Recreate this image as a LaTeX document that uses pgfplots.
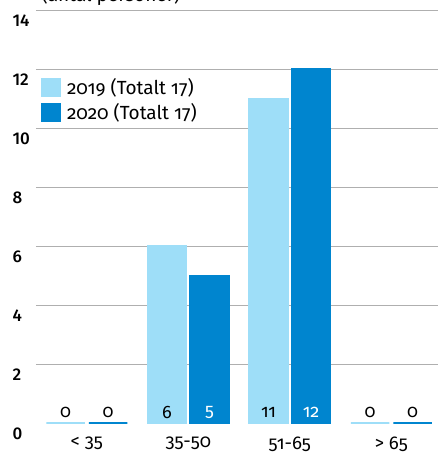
\documentclass[border=0pt]{standalone}
\usepackage{fontspec}
\setmainfont{Fira Sans}[Numbers=OldStyle]
\newfontfamily\medfont{Fira Sans Medium}[Numbers=Lining]
\usepackage{pgfplots}
\pgfplotsset{compat=1.18}
\definecolor{lightb}{RGB}{158,222,248}
\definecolor{darkb}{RGB}{0,133,207}
\definecolor{txt}{RGB}{30,30,30}
\definecolor{gridc}{RGB}{175,175,175}
\begin{document}
\begin{tikzpicture}[font=\color{txt}]
\begin{axis}[name=ax, scale only axis, width=402pt, height=413pt,
  xmin=-0.5, xmax=3.46, ymin=0, ymax=14,
  ybar=4pt, bar width=38.5pt,
  axis line style={draw=none},
  major tick length=0pt,
  xtick={0,1,2,3}, xticklabels={{< 35},{35-50},{51-65},{> 65}},
  ytick={2,4,...,14}, extra y ticks={0}, extra y tick style={grid=none},
  ymajorgrids, grid style={gridc, line width=0.8pt},
  /pgf/number format/assume math mode=true,
  yticklabel style={font=\medfont\fontsize{17}{19}\selectfont, anchor=west, xshift=-27pt, yshift=-11pt},
  xticklabel style={font=\fontsize{18.5}{21}\selectfont, yshift=-10pt},
  visualization depends on={rawy \as \rawy},
  every node near coord/.append style={anchor=center, yshift=11pt-\rawy*29.5pt, font=\fontsize{18}{20}\selectfont},
  legend style={at={(rel axis cs:0.012,0.84)}, anchor=north west, draw=none, fill=none,
    font=\fontsize{19}{21}\selectfont, row sep=4pt, inner sep=0pt,
    /tikz/every odd column/.append style={column sep=4pt}},
  legend cell align=left,
  legend image code/.code={\fill[#1, draw=none] (0pt,-9.5pt) rectangle (20pt,9.5pt);},
]
\addplot[fill=lightb, draw=lightb, line width=1.8pt, nodes near coords] coordinates {(0,0) (1,6) (2,11) (3,0)};
\addlegendentry{2019 (Totalt 17)}
\addplot[fill=darkb, draw=darkb, line width=1.8pt,
  nodes near coords={\ifdim\rawy pt>0.5pt\color{white}\fi\pgfmathprintnumber{\pgfplotspointmeta}}] coordinates {(0,0) (1,5) (2,12) (3,0)};
\addlegendentry{2020 (Totalt 17)}
\end{axis}
\node[anchor=base west, font=\fontsize{19}{21}\selectfont] at ([xshift=2pt,yshift=8pt]ax.north west) {(antal personer)};
\pgfresetboundingbox
\path[use as bounding box] ([xshift=-36pt,yshift=-35pt]ax.south west) rectangle ([yshift=10pt]ax.north east);
\end{tikzpicture}
\end{document}
